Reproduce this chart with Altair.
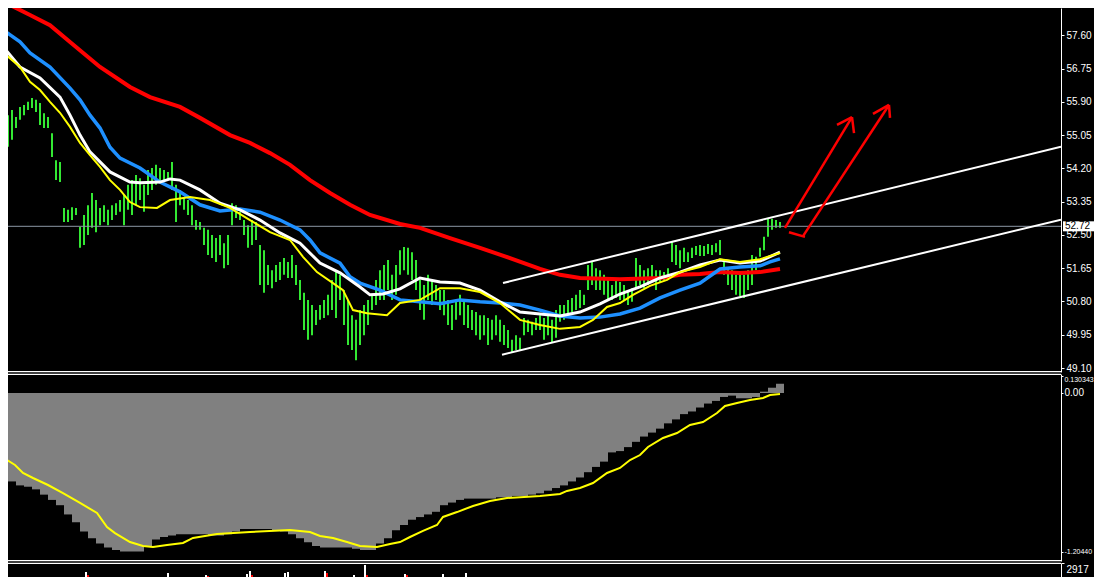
import altair as alt
import pandas as pd

# ---------------- data (bar index = time axis, prices) ----------------
bar_high = [55.95,55.90,55.56,55.69,55.51,55.77,55.82,55.90,56.00,55.95,
            55.87,55.61,55.51,55.10,54.41,54.36,53.19,53.14,53.21,53.19,
            52.70,53.01,53.26,53.57,53.39,53.19,53.26,53.14,53.26,53.31,
            53.39,53.52,53.78,53.90,54.03,53.95,53.78,54.16,54.21,54.29,
            54.21,54.16,54.11,54.36,53.78,53.65,53.44,53.39,53.26,52.88,
            52.83,52.68,52.63,52.50,52.42,52.50,52.29,52.50,53.31,53.26,
            53.09,52.88,52.75,52.88,52.83,52.24,52.11,51.73,51.60,51.73,
            51.81,51.91,51.81,51.99,51.73,51.35,51.02,50.84,50.71,50.58,
            50.71,50.84,50.97,51.35,51.60,51.48,51.09,50.84,50.45,50.33,
            50.58,50.71,50.84,50.97,51.35,51.60,51.73,51.86,51.48,51.73,
            52.11,52.19,52.17,52.06,51.86,51.35,51.22,51.48,51.35,51.22,
            51.09,51.09,50.84,50.71,50.84,50.97,50.84,50.71,50.58,50.53,
            50.45,50.45,50.38,50.33,50.45,50.33,50.20,50.07,49.82,49.94,
            49.87,50.38,50.33,50.28,50.38,50.45,50.38,50.53,50.33,50.58,
            50.71,50.71,50.84,50.89,50.97,51.09,50.97,51.73,51.81,51.65,
            51.60,51.48,51.35,51.22,51.35,51.30,51.22,51.09,51.14,51.91,
            51.73,51.60,51.65,51.73,51.60,51.60,51.55,51.65,52.32,52.24,
            52.11,52.17,52.06,52.17,52.22,52.24,52.22,52.27,52.24,52.29,
            52.37,51.81,51.65,51.60,51.48,51.55,51.48,51.60,51.99,51.94,
            52.17,52.45,52.93,52.91,52.88,52.83]
bar_low = [55.69,55.64,54.75,54.93,55.23,55.44,55.56,55.69,55.74,55.64,
           55.31,55.23,55.23,54.49,53.90,53.85,52.83,52.83,52.88,53.01,
           52.17,52.24,52.50,52.68,52.57,52.75,52.83,52.75,52.88,53.01,
           53.09,52.75,53.14,53.01,53.26,53.39,53.09,53.52,53.65,53.78,
           53.85,53.90,53.90,53.65,52.83,53.26,53.14,53.01,52.75,52.63,
           52.63,52.24,51.99,51.91,51.81,51.99,51.65,51.73,52.75,52.93,
           52.88,52.50,52.17,52.24,52.37,51.22,51.02,51.22,51.14,51.30,
           51.35,51.48,51.40,51.40,51.22,50.84,50.07,49.82,49.94,50.20,
           50.33,50.38,50.45,50.58,50.38,50.84,50.20,49.69,49.56,49.30,
           49.69,49.94,50.20,50.58,50.71,50.84,50.84,51.09,50.84,50.97,
           51.48,51.60,51.48,51.35,51.09,50.58,50.33,50.84,50.71,50.84,
           50.58,50.45,50.20,50.07,50.33,50.45,50.20,50.12,50.07,49.94,
           49.82,49.94,49.69,49.82,49.94,49.77,49.69,49.61,49.51,49.56,
           49.56,49.94,50.02,49.94,50.07,50.07,49.82,49.94,49.74,49.87,
           50.28,50.33,50.45,50.53,50.58,50.63,50.71,51.09,51.22,51.09,
           51.09,50.97,50.84,50.84,50.89,50.84,50.84,50.71,50.79,51.17,
           51.22,51.14,51.22,51.30,51.09,51.30,51.35,51.40,51.81,51.73,
           51.65,51.81,51.81,51.91,51.99,51.96,51.96,52.01,51.99,52.06,
           51.99,51.48,51.22,51.09,50.97,50.94,50.89,51.09,51.22,51.60,
           51.94,52.11,52.45,52.63,52.68,52.68]

red_i = [0,7.5,12.5,17.5,25,32.5,37.5,45,50,57.5,62.5,67.5,72.5,77.5,82.5,87.5,92.5,
         100,105,112.5,120,127.5,135,140,145,155,165,170,175,180,185,190,195]
red_v = [58.50,58.12,57.86,57.43,56.79,56.28,56.02,55.77,55.49,55.05,54.85,54.59,54.29,
         53.90,53.57,53.27,53.01,52.78,52.68,52.42,52.17,51.91,51.63,51.48,51.40,51.37,
         51.40,51.48,51.50,51.55,51.53,51.55,51.63]

blue_i = [0,5,7.5,12.5,17.5,20,22.5,25,27.5,30,35,40,45,50,55,60,65,70,75,77.5,
          80,85,87.5,90,95,100,105,110,115,120,125,130,135,140,145,150,155,160,165,170,
          175,180,185,190,192.5,195]
blue_v = [57.79,57.43,57.15,56.79,56.25,55.95,55.56,55.23,54.74,54.46,
          54.21,53.85,53.60,53.27,53.11,53.16,53.08,52.88,52.63,52.37,
          52.04,51.78,51.43,51.27,51.09,50.84,50.79,50.74,50.84,50.79,
          50.76,50.71,50.58,50.43,50.38,50.40,50.48,50.63,50.89,51.09,
          51.27,51.63,51.68,51.71,51.81,51.89]

white_i = [0,5,10,15,17.5,20,22.5,27.5,32.5,35,40,42.5,45,50,55,60,65,70,75,80,
           85,90,92.5,95.75,100,105,110,115,120,125,130,135,140,145,150,155,160,165,170,175,
           180,185,190,195]
white_v = [57.40,56.79,56.51,56.02,55.56,55.05,54.62,54.11,53.85,53.83,
           53.85,53.93,53.90,53.65,53.31,53.14,52.88,52.55,52.29,51.78,
           51.53,51.17,50.97,50.99,51.12,51.40,51.30,51.27,51.09,50.79,
           50.53,50.48,50.43,50.53,50.74,50.99,51.17,51.40,51.55,51.73,
           51.86,51.78,51.83,52.06]

yellow_i = [0,5,7.5,10,12.5,15,17.5,20,22.5,25,27.5,30,32.5,35,39.25,42.5,47.5,52.5,57.5,62.5,
            67.5,72.5,75.75,79.25,83.25,85.75,88.25,91.75,96.75,100,105,110,115,120,125,130,135,140,145,148.25,
            151.75,155,158.25,162.5,166.75,170,175,180,185,190,195]
yellow_v = [57.23,56.79,56.41,56.20,55.90,55.62,55.26,54.85,54.54,54.24,
            53.90,53.65,53.34,53.21,53.19,53.39,53.47,53.39,53.19,52.88,
            52.57,52.37,51.94,51.55,51.27,51.09,50.58,50.50,50.45,50.76,
            50.84,51.14,51.14,51.04,50.76,50.33,50.20,50.10,50.15,50.33,
            50.66,50.76,50.97,51.20,51.35,51.55,51.68,51.88,51.81,51.88,52.04]

# channel lines and the two red arrows: (start index, start price, end index, end price)
channel_seg = [(125.75, 51.27, 265.25, 54.75), (125.5, 49.44, 265.25, 52.89)]
arrow_seg = [(196.25, 52.68, 213.0, 55.51), (213.0, 55.51, 209.25, 55.31), (213.0, 55.51, 213.5, 55.10),
             (197.25, 52.57, 201.25, 52.45), (200.75, 52.47, 222.25, 55.82),
             (222.25, 55.82, 218.25, 55.59), (222.25, 55.82, 222.5, 55.49)]
last_price = 52.72
price_ticks = [49.10, 49.95, 50.80, 51.65, 52.50, 53.35, 54.20, 55.05, 55.90, 56.75, 57.60, 58.45]

# oscillator histogram (one value per 2 bars) and its signal line
hist_v = [-0.63,-0.67,-0.70,-0.71,-0.73,-0.77,-0.81,-0.85,-0.92,-0.98,
          -1.05,-1.10,-1.14,-1.17,-1.19,-1.20,-1.20,-1.20,-1.16,-1.11,
          -1.09,-1.08,-1.07,-1.07,-1.07,-1.07,-1.08,-1.08,-1.07,-1.05,
          -1.03,-1.03,-1.03,-1.03,-1.04,-1.05,-1.07,-1.10,-1.13,-1.16,
          -1.17,-1.17,-1.17,-1.17,-1.18,-1.19,-1.19,-1.14,-1.10,-1.04,
          -1.00,-0.96,-0.94,-0.92,-0.90,-0.85,-0.83,-0.81,-0.80,-0.80,
          -0.80,-0.80,-0.79,-0.79,-0.78,-0.78,-0.77,-0.76,-0.74,-0.72,
          -0.70,-0.67,-0.64,-0.60,-0.56,-0.52,-0.45,-0.44,-0.41,-0.37,
          -0.33,-0.30,-0.27,-0.23,-0.20,-0.16,-0.14,-0.11,-0.08,-0.06,
          -0.03,-0.02,-0.04,-0.04,-0.03,0.01,0.04,0.07]
sig_i = [0,1.75,3.75,5.75,8.25,12,15.75,20,24.25,26.75,28.75,32.5,35.75,38.25,41.75,45.75,48.25,
         54.25,62.5,72.5,77.5,80,83.25,86.75,90,94.25,97.5,100,102.5,105.75,109.25,110.75,114.25,
         118.25,122.5,126.75,135,140,141.75,145,148.25,151.75,155,157.5,160,162,165.75,169.25,
         172.5,175.75,179.25,181.25,184.25,187.5,190.75,192.5,195]
sig_v = [-0.485,-0.508,-0.545,-0.606,-0.644,-0.697,-0.758,-0.833,-0.909,-1.015,-1.061,-1.129,
         -1.159,-1.167,-1.152,-1.136,-1.098,-1.068,-1.053,-1.038,-1.053,-1.083,-1.098,-1.129,
         -1.159,-1.167,-1.144,-1.129,-1.091,-1.045,-1.000,-0.939,-0.902,-0.856,-0.818,-0.795,
         -0.780,-0.765,-0.742,-0.720,-0.682,-0.606,-0.568,-0.508,-0.470,-0.409,-0.341,-0.303,
         -0.242,-0.220,-0.152,-0.098,-0.076,-0.053,-0.038,-0.015,-0.008]
osc_ticks = [0.130343, 0.0, -1.2044]
osc_labels = ["0.130343", "0.00", "-1.20440"]

# volume spikes
vol_white_i = [21.5, 42, 51.5, 61.75, 62.5, 71.25, 72, 81.25, 88.5, 91.25, 101.25, 110.75, 116.5]
vol_white = [1040, 830, 420, 625, 1250, 830, 1040, 1250, 420, 2500, 625, 625, 830]
vol_red_i = [22, 52, 63, 81.75, 91.75, 101.75]
vol_red = [420, 210, 400, 830, 420, 420]
vol_max = 2917

# ---------------- chart: one view, three stacked y scales ----------------
W, H = 1053, 569
MAIN = (364, 0)      # pixel range of the price panel (bottom, top)
OSC = (553, 366)     # oscillator panel
VOL = (569, 555)     # volume panel
FONT = "Liberation Sans"

xs = alt.Scale(domain=[2, 265.25], nice=False, zero=False)
ys = alt.Scale(domain=[48.998, 58.297], range=list(MAIN), nice=False, zero=False)
ys2 = alt.Scale(domain=[-1.2727, 0.1439], range=list(OSC), nice=False, zero=False)
ys3 = alt.Scale(domain=[0, vol_max], range=list(VOL), nice=False, zero=False)

AX = dict(orient="right", title=None, grid=False, domainColor="white", tickColor="white",
          labelOverlap=False, labelFlush=False)


def X(f):
    return alt.X(f, type="quantitative", scale=xs, axis=None)


bars = pd.DataFrame({"i": list(range(len(bar_high))), "hi": bar_high, "lo": bar_low})
ma = pd.concat([
    pd.DataFrame({"i": red_i, "v": red_v, "s": "red"}),
    pd.DataFrame({"i": blue_i, "v": blue_v, "s": "blue"}),
    pd.DataFrame({"i": white_i, "v": white_v, "s": "white"}),
    pd.DataFrame({"i": yellow_i, "v": yellow_v, "s": "yellow"}),
])
seg_ch = pd.DataFrame(channel_seg, columns=["x0", "y0", "x1", "y1"])
seg_ar = pd.DataFrame(arrow_seg, columns=["x0", "y0", "x1", "y1"])
tag = pd.DataFrame({"p": [last_price], "t": [f"{last_price:.2f}"]})

bar_layer = alt.Chart(bars).mark_rule(color="#33e833", strokeWidth=2, clip=True).encode(
    x=X("i"),
    y=alt.Y("lo:Q", scale=ys, axis=alt.Axis(values=price_ticks, format=".2f", tickSize=3,
                                            labelPadding=2, **AX)),
    y2="hi:Q",
)
hline = alt.Chart(tag).mark_rule(color="#8c98a5", strokeWidth=1).encode(
    y=alt.Y("p:Q", scale=ys, axis=None), x=alt.value(0), x2=alt.value(W))


def ma_line(name, color, width):
    return alt.Chart(ma).transform_filter(alt.datum.s == name).mark_line(
        color=color, strokeWidth=width, clip=True).encode(
        x=X("i"), y=alt.Y("v:Q", scale=ys, axis=None), order="i:Q")


seg_enc = dict(x=X("x0"), x2="x1:Q", y=alt.Y("y0:Q", scale=ys, axis=None), y2="y1:Q")
chan = alt.Chart(seg_ch).mark_rule(color="white", strokeWidth=2, clip=True).encode(**seg_enc)
arrows = alt.Chart(seg_ar).mark_rule(color="#ff0000", strokeWidth=2.5, clip=True).encode(**seg_enc)
tag_box = alt.Chart(tag).mark_rule(color="white", strokeWidth=10).encode(
    y=alt.Y("p:Q", scale=ys, axis=None), x=alt.value(W + 2), x2=alt.value(W + 33))
tag_txt = alt.Chart(tag).mark_text(align="left", baseline="middle", color="black",
                                   font=FONT, fontSize=10).encode(
    y=alt.Y("p:Q", scale=ys, axis=None), x=alt.value(W + 4), text="t:N")

# oscillator panel
hist = pd.DataFrame({"i": [2 * k for k in range(len(hist_v))], "v": hist_v})
hist["i2"] = hist["i"] + 2
hist["z"] = 0.0
sig = pd.DataFrame({"i": sig_i, "v": sig_v})

label_expr = " : ".join(
    f"abs(datum.value - ({v})) < 1e-6 ? '{t}'" for v, t in zip(osc_ticks, osc_labels)) + " : ''"

hist_layer = alt.Chart(hist).mark_rect(color="#808080", clip=True).encode(
    x=X("i"), x2="i2:Q",
    y=alt.Y("v:Q", scale=ys2, axis=alt.Axis(
        values=osc_ticks, labelExpr=label_expr, tickSize=2, labelPadding=1,
        labelFontSize={"condition": {"test": "datum.value == 0", "value": 10}, "value": 7},
        labelBaseline={"condition": {"test": "datum.value > 0.1", "value": "top"}, "value": "middle"},
        **AX)),
    y2="z:Q",
)
sig_layer = alt.Chart(sig).mark_line(color="#ffff00", strokeWidth=2, clip=True).encode(
    x=X("i"), y=alt.Y("v:Q", scale=ys2, axis=None))

# volume panel
vol_w = pd.DataFrame({"i": vol_white_i, "v": vol_white, "z": 0})
vol_r = pd.DataFrame({"i": vol_red_i, "v": vol_red, "z": 0})
vol_w_layer = alt.Chart(vol_w).mark_rule(color="white", strokeWidth=2, clip=True).encode(
    x=X("i"),
    y=alt.Y("z:Q", scale=ys3, axis=alt.Axis(values=[vol_max], format="d", labelBaseline="top",
                                            labelOffset=1, tickSize=3, labelPadding=2, **AX)),
    y2="v:Q",
)
vol_r_layer = alt.Chart(vol_r).mark_rule(color="#ff0000", strokeWidth=2, clip=True).encode(
    x=X("i"), y=alt.Y("z:Q", scale=ys3, axis=None), y2="v:Q")


# panel separators (white double lines)
def sep(ypix):
    return alt.Chart(tag).mark_rule(color="white", strokeWidth=1.2).encode(
        x=alt.value(0), x2=alt.value(W), y=alt.value(ypix))


chart = alt.layer(
    bar_layer, hline,
    ma_line("red", "#ff0000", 4), ma_line("blue", "#1e90ff", 3.5),
    ma_line("white", "#ffffff", 3), ma_line("yellow", "#ffff00", 2),
    chan, arrows,
    hist_layer, sig_layer, vol_w_layer, vol_r_layer,
    sep(MAIN[0] - 0.4), sep(OSC[1] + 0.4), sep(OSC[0] - 0.4), sep(VOL[1] + 0.4),
    tag_box, tag_txt,
).resolve_scale(y="independent").properties(
    width=W, height=H,
    autosize=alt.AutoSizeParams(type="none"),
    padding={"left": 0, "top": 0, "right": 33, "bottom": 0},
    background="black",
).configure_view(strokeWidth=0).configure_axis(
    labelFont=FONT, labelFontSize=10, labelColor="white"
)

chart.save("out.html", embed_options={"renderer": "svg", "actions": False})
